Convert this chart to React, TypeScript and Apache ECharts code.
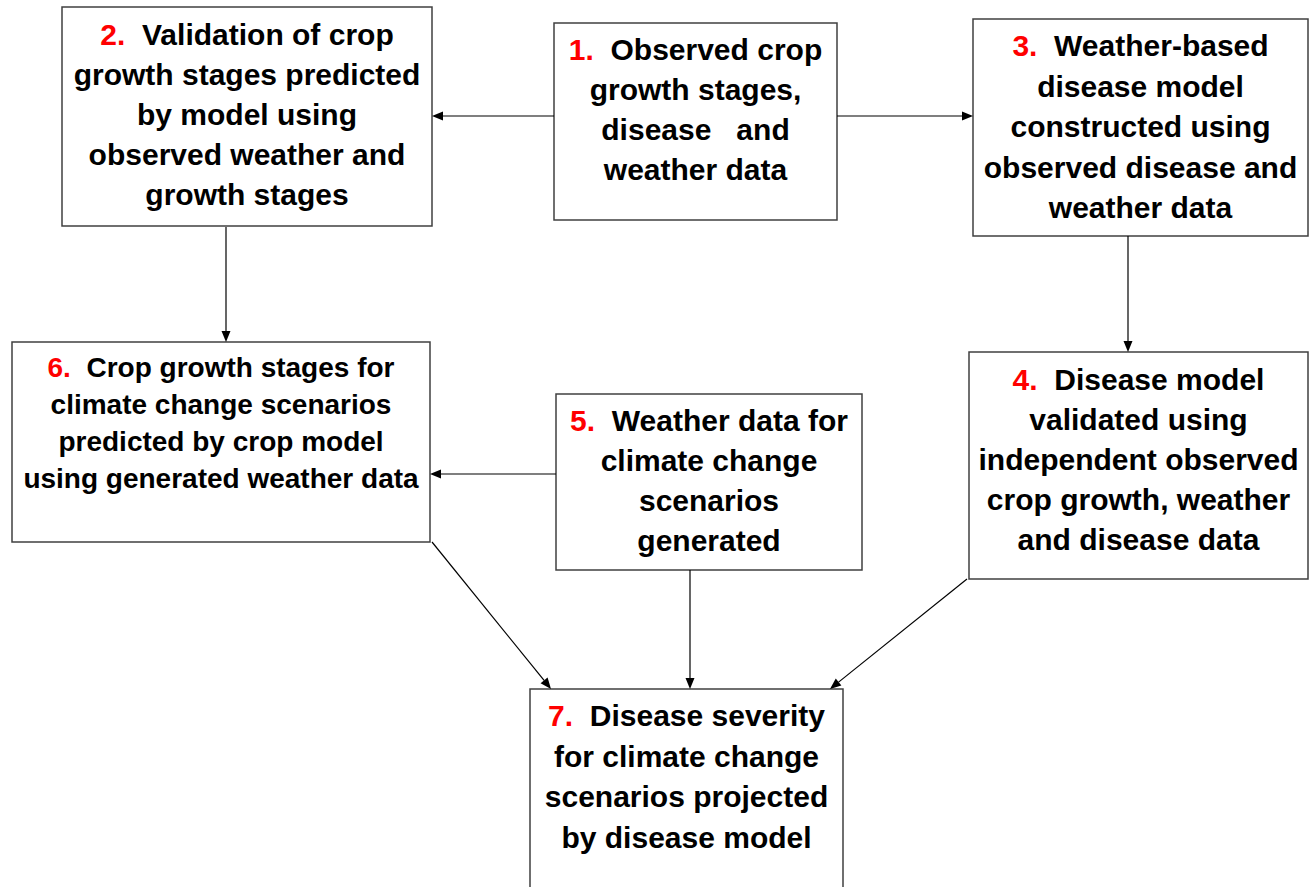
import React, { useEffect, useRef } from "react";
import * as echarts from "echarts";

// ---- content ----
const stepNumbers = ["1.", "2.", "3.", "4.", "5.", "6.", "7."];
const stepLines: string[][] = [
  ["Observed crop", "growth stages,", "disease   and", "weather data"],
  ["Validation of crop", "growth stages predicted", "by model using", "observed weather and", "growth stages"],
  ["Weather-based", "disease model", "constructed using", "observed disease and", "weather data"],
  ["Disease model", "validated using", "independent observed", "crop growth, weather", "and disease data"],
  ["Weather data for", "climate change", "scenarios", "generated"],
  ["Crop growth stages for", "climate change scenarios", "predicted by crop model", "using generated weather data"],
  ["Disease severity", "for climate change", "scenarios projected", "by disease model"],
];
// flow links: [from step index, to step index]
const links: [number, number][] = [
  [0, 1],
  [0, 2],
  [1, 5],
  [2, 3],
  [4, 5],
  [5, 6],
  [4, 6],
  [3, 6],
];

// ---- layout (positions / sizes) ----
const boxLayout = [
  { x: 554, y: 23, w: 283, h: 197, top: 29, lh: 40, fs: 30 },
  { x: 62, y: 7, w: 370, h: 219, top: 14, lh: 40, fs: 30 },
  { x: 973, y: 19, w: 335, h: 217, top: 25.5, lh: 40.5, fs: 30 },
  { x: 969, y: 352, w: 339, h: 227, top: 359, lh: 40, fs: 30 },
  { x: 556, y: 394, w: 306, h: 176, top: 400.5, lh: 40, fs: 30 },
  { x: 12, y: 342, w: 418, h: 200, top: 348.5, lh: 37, fs: 28 },
  { x: 530, y: 689, w: 313, h: 220, top: 695, lh: 40.7, fs: 30 },
];
const linkLayout: [number, number, number, number][] = [
  [554, 116, 432, 116],
  [837, 116, 973, 116],
  [226, 227, 226, 342],
  [1128, 236, 1128, 352],
  [556, 474, 430, 474],
  [432, 542, 551, 689],
  [690, 570, 690, 689],
  [967, 579, 830, 689],
];

const FONT = "'Liberation Sans', Arial, sans-serif";

export default function App() {
  const ref = useRef<HTMLDivElement>(null);
  useEffect(() => {
    if (!ref.current) return;
    const chart = echarts.init(ref.current, null, { renderer: "svg" });
    const elements: any[] = [];
    // boxes
    stepLines.forEach((lines, i) => {
      const b = boxLayout[i];
      elements.push({
        type: "rect",
        shape: { x: b.x, y: b.y, width: b.w, height: b.h },
        style: { fill: "#ffffff", stroke: "#404040", lineWidth: 1.5 },
        z: 1,
      });
      const txt = lines
        .map((l, k) => (k === 0 ? `{num|${stepNumbers[i]}}{t|  ${l}}` : `{t|${l}}`))
        .join("\n");
      elements.push({
        type: "text",
        x: b.x + b.w / 2,
        y: b.top,
        z: 3,
        style: {
          text: txt,
          align: "center",
          verticalAlign: "top",
          lineHeight: b.lh,
          rich: {
            num: {
              fill: "#ff0000",
              fontSize: b.fs,
              fontWeight: "bold",
              fontFamily: FONT,
              lineHeight: b.lh,
            },
            t: {
              fill: "#000000",
              fontSize: b.fs,
              fontWeight: "bold",
              fontFamily: FONT,
              lineHeight: b.lh,
            },
          },
        },
      });
    });
    // links with arrowheads
    links.forEach((_, i) => {
      const [x1, y1, x2, y2] = linkLayout[i];
      const dx = x2 - x1;
      const dy = y2 - y1;
      const len = Math.sqrt(dx * dx + dy * dy);
      const ux = dx / len;
      const uy = dy / len;
      const aLen = 11;
      const aHalf = 4.5;
      const bx = x2 - ux * aLen;
      const by = y2 - uy * aLen;
      elements.push({
        type: "line",
        shape: { x1, y1, x2: bx, y2: by },
        style: { stroke: "#000000", lineWidth: 1.2 },
        z: 2,
      });
      elements.push({
        type: "polygon",
        shape: {
          points: [
            [x2, y2],
            [bx - uy * aHalf, by + ux * aHalf],
            [bx + uy * aHalf, by - ux * aHalf],
          ],
        },
        style: { fill: "#000000" },
        z: 4,
      });
    });
    chart.setOption({
      animation: false,
      backgroundColor: "#ffffff",
      graphic: { elements },
    });
    return () => chart.dispose();
  }, []);
  return (
    <div
      ref={ref}
      style={{ position: "fixed", left: 0, top: 0, width: 1309, height: 887 }}
    />
  );
}
